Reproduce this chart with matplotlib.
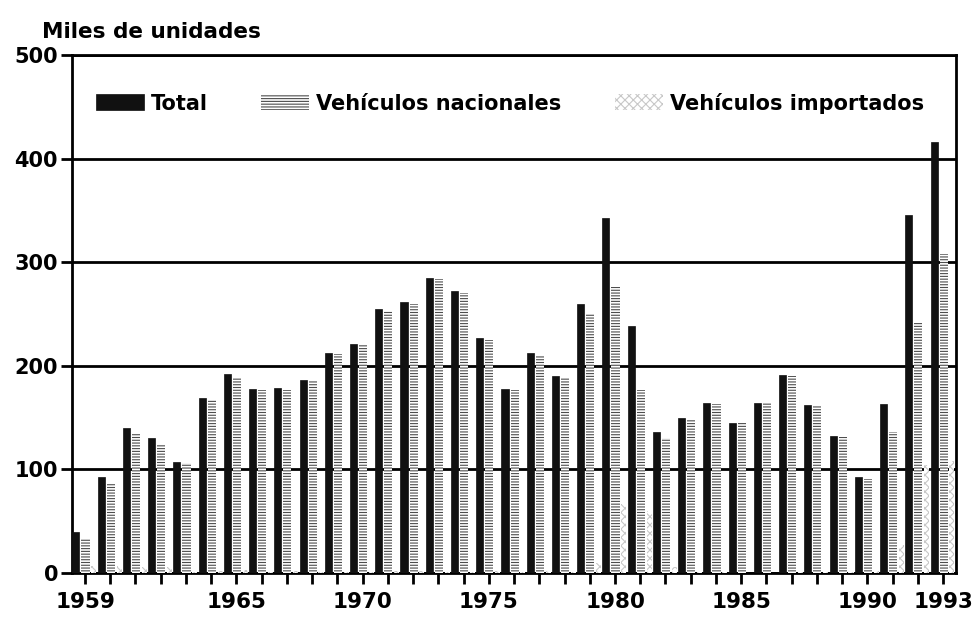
import matplotlib
matplotlib.use("Agg")
from matplotlib import pyplot as plt
import numpy as np

years = list(range(1959, 1994))
total = [40, 93, 140, 130, 107, 169, 192, 178, 179, 186, 212, 221, 255, 262, 285, 272,
         227, 178, 212, 190, 260, 343, 238, 136, 150, 164, 145, 164, 191, 162, 132, 93,
         163, 346, 416]
nacionales = [33, 86, 134, 124, 106, 167, 189, 177, 177, 185, 211, 220, 253, 260, 284, 270,
              225, 177, 210, 189, 250, 276, 177, 130, 149, 163, 145, 164, 190, 161, 131, 91,
              136, 242, 308]
importados = [7, 7, 6, 6, 1, 2, 3, 1, 2, 1, 1, 1, 2, 2, 1, 1,
              2, 1, 2, 1, 10, 67, 60, 6, 1, 1, 0, 0, 1, 1, 1, 2,
              27, 104, 108]
label_years = [1959, 1965, 1970, 1975, 1980, 1985, 1990, 1993]
yticks = [0, 100, 200, 300, 400, 500]

plt.rcParams['hatch.linewidth'] = 0.8
fig = plt.figure(figsize=(9.77, 6.18), dpi=100)
ax = fig.add_axes([0.0737, 0.0728, 0.9048, 0.8382])

x = np.array(years)
ax.bar(x - 0.36, total, width=0.28, color='#111111', edgecolor='#111111',
       linewidth=0.5, label='Total', zorder=3)
ax.bar(x + 0.02, nacionales, width=0.32, color='white', edgecolor='#4d4d4d',
       hatch='------', linewidth=0.0, label='Vehículos nacionales', zorder=3)
ax.bar(x + 0.35, importados, width=0.2, color='white', edgecolor='#c8c8c8',
       hatch='xxxx', linewidth=0.0, label='Vehículos importados', zorder=3)

ax.set_xlim(1959 - 0.515, 1993 + 0.51)
ax.set_ylim(0, 500)
ax.set_yticks(yticks)
ax.set_yticklabels([str(v) for v in yticks], fontsize=15, fontweight='bold')
ax.set_xticks(years)
ax.set_xticklabels([str(y) if y in label_years else '' for y in years],
                   fontsize=15.5, fontweight='bold')
ax.tick_params(axis='x', direction='out', length=8, width=2, pad=6)
ax.tick_params(axis='y', direction='out', length=8, width=2, pad=2)

ax.grid(axis='y', color='black', linewidth=2)
ax.set_axisbelow(True)
for s in ax.spines.values():
    s.set_linewidth(2)
    s.set_color('black')

ax.legend(loc='center left', bbox_to_anchor=(0.027, 0.907), ncol=3, frameon=False,
          prop={'weight': 'bold', 'size': 15}, handlelength=2.3, handleheight=0.8,
          handletextpad=0.35, columnspacing=2.55, borderpad=0, borderaxespad=0)

fig.text(0.043, 0.948, 'Miles de unidades', fontsize=15.5, fontweight='bold',
         ha='left', va='center')

fig.savefig('out.png', dpi=100)
